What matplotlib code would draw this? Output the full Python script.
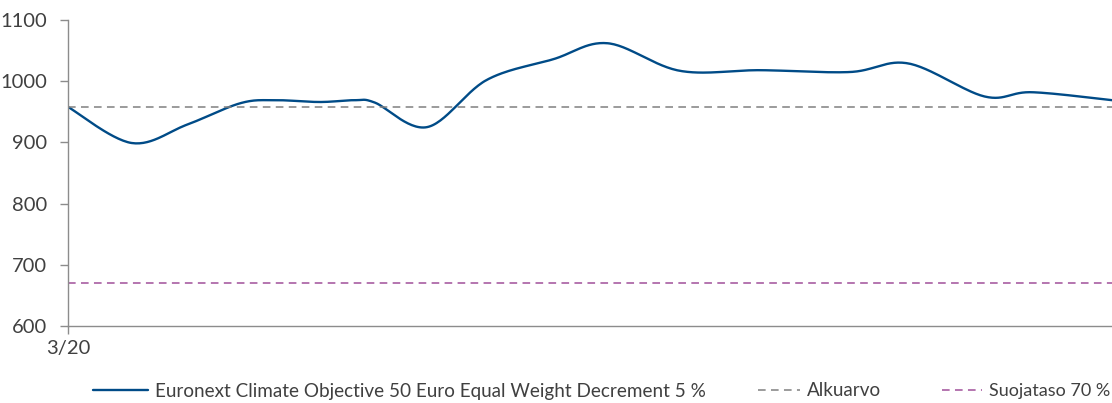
import numpy as np
import matplotlib
matplotlib.use("Agg")
import matplotlib.pyplot as plt

# data (x = share of the period, %)
t = [0, 6.1, 11.4, 16.5, 19.8, 24.1, 27.5, 29.4, 34.4, 40.1, 46.5, 51.7,
     58.6, 66.3, 74.9, 80.5, 87.8, 92.3, 100]
index_value = [958, 899, 929, 964, 969, 966, 969, 965, 925, 1002, 1036, 1062,
               1017, 1018, 1015, 1029, 975, 982, 969]
start_level = 958
protection_level = 670
y_ticks = [600, 700, 800, 900, 1000, 1100]
x_label = "3/20"

series_name = "Euronext Climate Objective 50 Euro Equal Weight Decrement 5 %"
start_name = "Alkuarvo"
prot_name = "Suojataso 70 %"


def smooth(x, y, n=30):
    # cardinal spline through the points, like a spreadsheet "smoothed line"
    x = np.asarray(x, float)
    y = np.asarray(y, float)
    px = np.concatenate([[x[0]], x, [x[-1]]])
    py = np.concatenate([[y[0]], y, [y[-1]]])
    xs, ys = [], []
    s = np.linspace(0, 1, n, endpoint=False)
    for i in range(1, len(px) - 2):
        mx0 = (px[i + 1] - px[i - 1]) / 2
        my0 = (py[i + 1] - py[i - 1]) / 2
        mx1 = (px[i + 2] - px[i]) / 2
        my1 = (py[i + 2] - py[i]) / 2
        h00 = 2 * s**3 - 3 * s**2 + 1
        h10 = s**3 - 2 * s**2 + s
        h01 = -2 * s**3 + 3 * s**2
        h11 = s**3 - s**2
        xs.append(h00 * px[i] + h10 * mx0 + h01 * px[i + 1] + h11 * mx1)
        ys.append(h00 * py[i] + h10 * my0 + h01 * py[i + 1] + h11 * my1)
    xs.append([x[-1]])
    ys.append([y[-1]])
    return np.concatenate(xs), np.concatenate(ys)


plt.rcParams['font.family'] = ['Lato', 'DejaVu Sans']

fig = plt.figure(figsize=(11.12, 4.03), dpi=100)
ax = fig.add_axes([68 / 1112, 1 - 326 / 403, 1 - 68 / 1112, (326 - 20) / 403])

sx, sy = smooth(t, index_value)
l1, = ax.plot(sx, sy, color="#004b87", lw=1.7, solid_capstyle="round")
l2 = ax.axhline(start_level, color="#808080", lw=1.1, ls=(0, (5, 3.5)))
l3 = ax.axhline(protection_level, color="#a0509a", lw=1.1, ls=(0, (5, 3.5)))

ax.set_xlim(0, 100)
ax.set_ylim(600, 1100)
ax.set_yticks(y_ticks)
ax.set_yticklabels([str(v) for v in y_ticks])
ax.set_xticks([0])
ax.set_xticklabels([x_label])

for side in ["top", "right"]:
    ax.spines[side].set_visible(False)
for side in ["left", "bottom"]:
    ax.spines[side].set_color("#8c8c8c")
    ax.spines[side].set_linewidth(1.0)
ax.tick_params(axis="both", colors="#8c8c8c", length=6, width=1.0,
               labelsize=14.5, labelcolor="#404040")
ax.tick_params(axis="y", pad=9)
ax.tick_params(axis="x", pad=4)

# three legend entries, placed like the spreadsheet legend
entries = [(l1, series_name, 93, 2.9, 13.6), (l2, start_name, 758, 2.2, 13.6),
           (l3, prot_name, 942, 2.2, 13.0)]
for h, name, x0, hl, fs in entries:
    fig.legend([h], [name], loc="center left", bbox_to_anchor=(x0 / 1112, 1 - 391 / 403),
               frameon=False, prop={"size": fs}, labelcolor="#404040",
               handlelength=hl, handletextpad=0.4, borderpad=0, borderaxespad=0)

fig.savefig("out.png", dpi=100)
